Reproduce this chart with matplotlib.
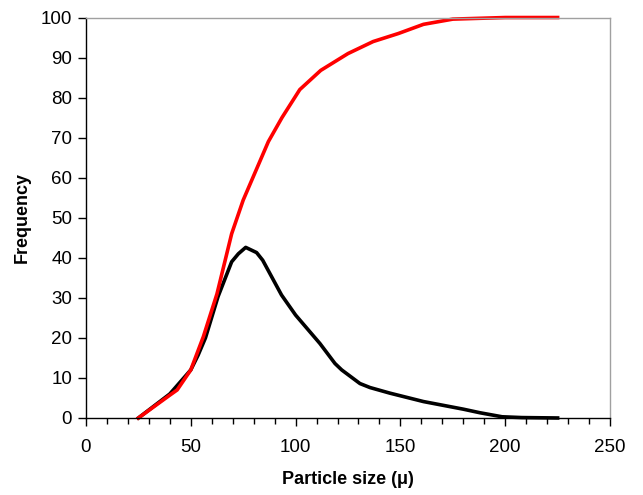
import matplotlib
matplotlib.use("Agg")
import matplotlib.pyplot as plt
from matplotlib.ticker import MultipleLocator

# cumulative curve (red)
cum_size = [25, 40, 43.5, 50, 56, 62.5, 69.5, 75, 81, 87, 93.5, 102, 112, 125, 137, 149, 161, 175, 200, 225]
cum_freq = [0, 5.7, 7, 12, 20.3, 31, 46, 54.4, 61.7, 69, 75, 82, 86.8, 91, 94, 96, 98.3, 99.6, 100, 100]

# frequency distribution (black)
dist_size = [25, 40, 45, 50, 53.5, 57, 63, 69.5, 72.7, 76.2, 81.4, 84.3, 93.3, 100, 111.6, 118.8,
             122, 130.7, 135.5, 145, 161, 180, 188, 198.5, 208, 225]
dist_freq = [0, 6, 9, 12, 15.7, 20, 30.3, 39, 41, 42.6, 41.3, 39.4, 30.7, 25.7, 18.6, 13.6,
             12, 8.6, 7.6, 6.2, 4.1, 2.2, 1.3, 0.3, 0.1, 0]

plt.rcParams['font.family'] = ['Liberation Sans', 'DejaVu Sans']

fig = plt.figure(figsize=(6.43, 4.95), dpi=100)
ax = fig.add_axes([0.1337, 0.1556, 0.815, 0.809])

ax.plot(dist_size, dist_freq, color='black', lw=2.6, clip_on=False)
ax.plot(cum_size, cum_freq, color='#ff0000', lw=2.6, clip_on=False)

ax.set_xlim(0, 250)
ax.set_ylim(0, 100)
ax.xaxis.set_major_locator(MultipleLocator(50))
ax.xaxis.set_minor_locator(MultipleLocator(10))
ax.yaxis.set_major_locator(MultipleLocator(10))

ax.tick_params(axis='both', which='major', direction='out', length=6, width=1, labelsize=13.5, pad=4)
ax.tick_params(axis='x', which='minor', direction='out', length=4, width=1)
ax.tick_params(axis='x', which='major', pad=9)

for s in ['top', 'right']:
    ax.spines[s].set_color('#a0a0a0')
    ax.spines[s].set_linewidth(1)
for s in ['left', 'bottom']:
    ax.spines[s].set_color('black')
    ax.spines[s].set_linewidth(1)

ax.set_xlabel('Particle size (\u03bc)', fontsize=13, fontweight='bold', labelpad=11)
ax.set_ylabel('Frequency', fontsize=13, fontweight='bold', labelpad=7)

plt.savefig('out.png', dpi=100)
